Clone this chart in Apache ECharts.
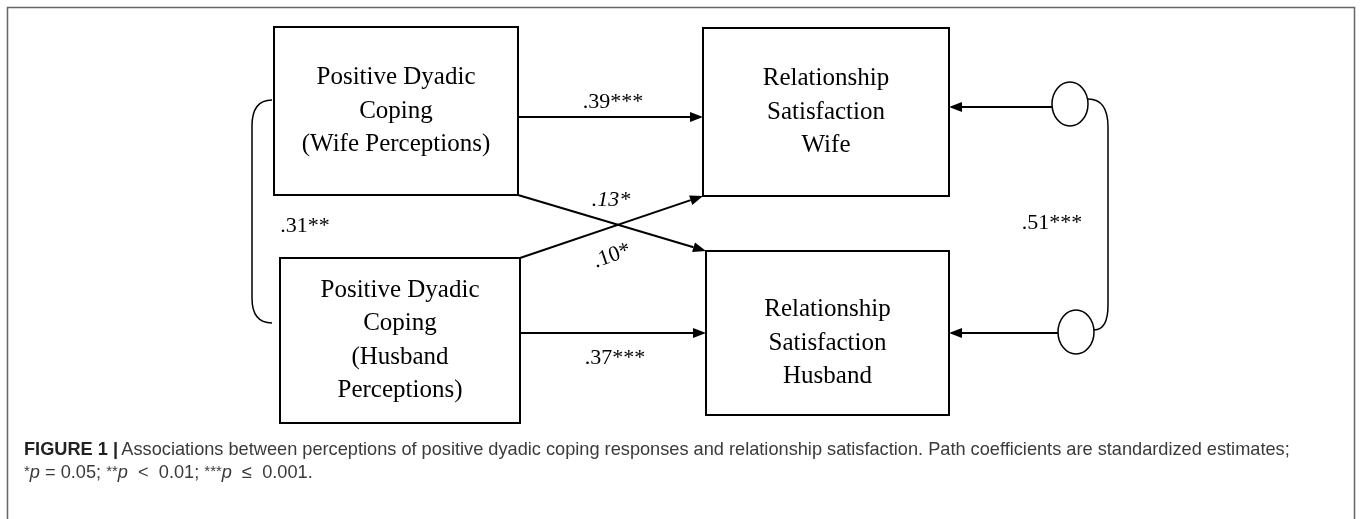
<!DOCTYPE html>
<html><head><meta charset="utf-8">
<script src="https://cdn.jsdelivr.net/npm/echarts@6/dist/echarts.min.js"></script>
<style>html,body{margin:0;padding:0;background:#fff}#c{width:1360px;height:519px}</style>
</head><body><div id="c"></div>
<script>
// ---------------- data ----------------
const nodeLabels = [
  'Positive Dyadic\nCoping\n(Wife Perceptions)',
  'Positive Dyadic\nCoping\n(Husband\nPerceptions)',
  'Relationship\nSatisfaction\nWife',
  'Relationship\nSatisfaction\nHusband'
];
const pathFrom = [0, 1, 0, 1];
const pathTo = [2, 3, 3, 2];
const pathCoefficients = ['.39***', '.37***', '.13*', '.10*'];
const covarianceLabels = ['.31**', '.51***'];
const captionTitle = 'FIGURE 1';
const captionLine1 = 'Associations between perceptions of positive dyadic coping responses and relationship satisfaction. Path coefficients are standardized estimates;';
const captionLine2 = ['*', 'p', ' = 0.05; ', '**', 'p', '  <  0.01; ', '***', 'p', '  ≤  0.001.'];

// ---------------- layout (diagram units) ----------------
const layout = {
  boxes: [[274, 27, 518, 195], [280, 258, 520, 423], [703, 28, 949, 196], [706, 251, 949, 415]],
  textDy: [0, 0, 0, 10],
  straightY: [117, 333],
  labelPos: [[613, 102, 0, false], [615, 358, 0, false], [611, 200, 0, true], [612, 256, 19, false]],
  ellipses: [[1070, 104, 18, 22], [1076, 332, 18, 22]],
  residualY: [107, 333],
  covLabelPos: [[305, 226], [1052, 223]],
  leftBracket: [[272, 100], [252, 100], [252, 126], [252, 298], [252, 323], [272, 323]],
  rightBracket: [[1088, 99], [1108, 99], [1108, 127], [1108, 305], [1108, 330], [1094, 330]]
};

const serif = '"Liberation Serif", "Times New Roman", serif';
const sans = '"Liberation Sans", Arial, sans-serif';

function arrowGroup(p0, p1, lw) {
  const dx = p1[0] - p0[0], dy = p1[1] - p0[1];
  const L = Math.sqrt(dx * dx + dy * dy);
  const ux = dx / L, uy = dy / L;
  const len = 13, w = 5;
  const bx = p1[0] - ux * len, by = p1[1] - uy * len;
  return [
    { type: 'line', shape: { x1: p0[0], y1: p0[1], x2: bx, y2: by }, style: { stroke: '#000', lineWidth: lw } },
    { type: 'polygon', shape: { points: [[p1[0], p1[1]], [bx - uy * w, by + ux * w], [bx + uy * w, by - ux * w]] }, style: { fill: '#000' } }
  ];
}

function pathEndpoints(i) {
  const a = layout.boxes[pathFrom[i]], b = layout.boxes[pathTo[i]];
  if (i < 2) {
    const y = layout.straightY[i];
    return [[a[2], y], [b[0], y]];
  }
  if (i === 2) return [[a[2], a[3]], [b[0], b[1]]];
  return [[a[2], a[1]], [b[0], b[3]]];
}

function bracketPath(api, pts) {
  const p = pts.map(q => api.coord(q));
  return 'M' + p[0].join(' ') + ' Q' + p[1].join(' ') + ' ' + p[2].join(' ') +
    ' L' + p[3].join(' ') + ' Q' + p[4].join(' ') + ' ' + p[5].join(' ');
}

const option = {
  animation: false,
  backgroundColor: '#fff',
  grid: { left: 0, right: 0, top: 0, bottom: 0 },
  xAxis: { type: 'value', min: 0, max: 1360, show: false },
  yAxis: { type: 'value', min: 0, max: 519, inverse: true, show: false },
  graphic: [
    { type: 'rect', left: 5, top: 5, shape: { width: 1347, height: 530 }, style: { fill: 'none', stroke: '#666', lineWidth: 1.5 } },
    {
      type: 'text', left: 24, top: 441,
      style: {
        text: '{b|' + captionTitle + ' |} {n|' + captionLine1 + '}',
        rich: {
          b: { font: 'bold 18.2px ' + sans, fill: '#222' },
          n: { font: '18.2px ' + sans, fill: '#3a3a3a' }
        }
      }
    },
    {
      type: 'text', left: 24, top: 464,
      style: {
        text: captionLine2.map((s, k) => (k % 3 === 0 ? '{s|' : k % 3 === 1 ? '{i|' : '{n|') + s + '}').join(''),
        rich: {
          s: { font: '15px ' + sans, fill: '#3a3a3a', verticalAlign: 'top' },
          i: { font: 'italic 18.2px ' + sans, fill: '#3a3a3a' },
          n: { font: '18.2px ' + sans, fill: '#3a3a3a' }
        }
      }
    }
  ],
  series: [
    {
      type: 'custom', name: 'variables', coordinateSystem: 'cartesian2d',
      data: nodeLabels.map((_, i) => [i, 0]),
      renderItem: function (params, api) {
        const i = api.value(0);
        const b = layout.boxes[i];
        const p0 = api.coord([b[0], b[1]]), p1 = api.coord([b[2], b[3]]);
        return {
          type: 'group', children: [
            { type: 'rect', shape: { x: p0[0], y: p0[1], width: p1[0] - p0[0], height: p1[1] - p0[1] }, style: { fill: '#fff', stroke: '#000', lineWidth: 2 } },
            { type: 'text', style: { text: nodeLabels[i], x: (p0[0] + p1[0]) / 2, y: (p0[1] + p1[1]) / 2 + layout.textDy[i], align: 'center', verticalAlign: 'middle', font: '25px ' + serif, lineHeight: 33.5, fill: '#000' } }
          ]
        };
      }
    },
    {
      type: 'custom', name: 'paths', coordinateSystem: 'cartesian2d',
      data: pathCoefficients.map((_, i) => [i, 0]),
      renderItem: function (params, api) {
        const i = api.value(0);
        const e = pathEndpoints(i);
        const lp = layout.labelPos[i];
        const c = api.coord([lp[0], lp[1]]);
        const kids = arrowGroup(api.coord(e[0]), api.coord(e[1]), 2);
        kids.push({
          type: 'text', x: c[0], y: c[1], rotation: lp[2] * Math.PI / 180,
          style: { text: pathCoefficients[i], x: 0, y: 0, align: 'center', verticalAlign: 'middle', font: (lp[3] ? 'italic ' : '') + '22px ' + serif, fill: '#000' }
        });
        return { type: 'group', children: kids };
      }
    },
    {
      type: 'custom', name: 'residuals', coordinateSystem: 'cartesian2d',
      data: layout.ellipses.map((_, i) => [i, 0]),
      renderItem: function (params, api) {
        const i = api.value(0);
        const el = layout.ellipses[i];
        const c = api.coord([el[0], el[1]]);
        const box = layout.boxes[2 + i];
        const y = layout.residualY[i];
        const kids = arrowGroup(api.coord([el[0] - el[2], y]), api.coord([box[2], y]), 2);
        kids.push({ type: 'ellipse', shape: { cx: c[0], cy: c[1], rx: el[2], ry: el[3] }, style: { fill: '#fff', stroke: '#000', lineWidth: 1.5 } });
        return { type: 'group', children: kids };
      }
    },
    {
      type: 'custom', name: 'covariances', coordinateSystem: 'cartesian2d',
      data: covarianceLabels.map((_, i) => [i, 0]),
      renderItem: function (params, api) {
        const i = api.value(0);
        const pts = i === 0 ? layout.leftBracket : layout.rightBracket;
        const lp = api.coord(layout.covLabelPos[i]);
        return {
          type: 'group', children: [
            { type: 'path', shape: { pathData: bracketPath(api, pts) }, style: { fill: 'none', stroke: '#000', lineWidth: 1.5 } },
            { type: 'text', style: { text: covarianceLabels[i], x: lp[0], y: lp[1], align: 'center', verticalAlign: 'middle', font: '22px ' + serif, fill: '#000' } }
          ]
        };
      }
    }
  ]
};

const chart = echarts.init(document.getElementById('c'), null, { renderer: 'canvas' });
chart.setOption(option);
</script>
</body></html>
